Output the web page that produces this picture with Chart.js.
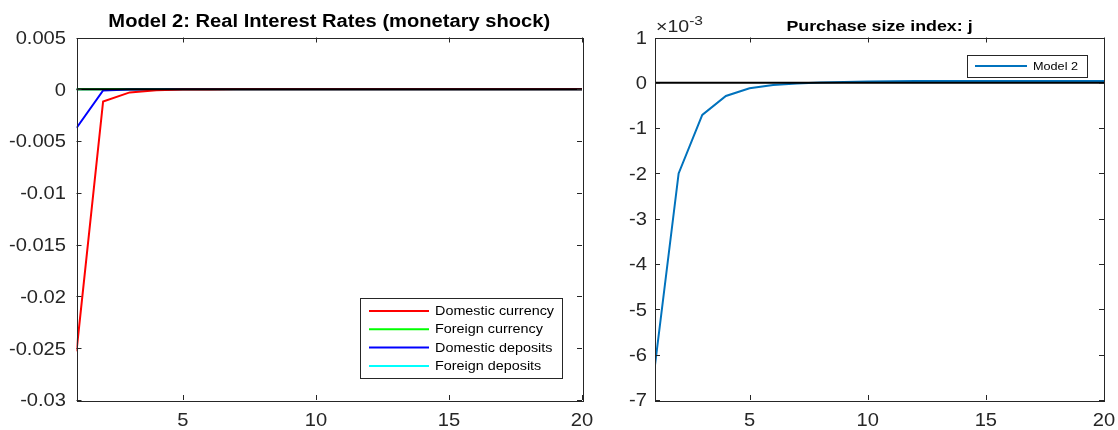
<!DOCTYPE html>
<html>
<head>
<meta charset="utf-8">
<script src="https://cdn.jsdelivr.net/npm/chart.js@4/dist/chart.umd.min.js"></script>
<style>
  html, body { margin: 0; padding: 0; background: #fff; }
  body { width: 1118px; height: 430px; position: relative; overflow: hidden; }
  .box { position: absolute; top: 0; height: 430px; }
  #leftBox { left: 0; width: 600px; }
  #rightBox { left: 595px; width: 523px; }
</style>
</head>
<body>
<div class="box" id="leftBox"><canvas id="rateChart" width="600" height="430"></canvas></div>
<div class="box" id="rightBox"><canvas id="jChart" width="523" height="430"></canvas></div>
<script>
// periods after the shock
const periods = [1, 2, 3, 4, 5, 6, 7, 8, 9, 10, 11, 12, 13, 14, 15, 16, 17, 18, 19, 20];
const xTicks = [5, 10, 15, 20];

// left panel: real interest rates
const domesticCurrency = [-0.0253, -0.00118, -0.0003, -0.0001, -0.00003, -0.00001, 0, 0, 0, 0, 0, 0, 0, 0, 0, 0, 0, 0, 0, 0];
const foreignCurrency = [0, 0, 0, 0, 0, 0, 0, 0, 0, 0, 0, 0, 0, 0, 0, 0, 0, 0, 0, 0];
const domesticDeposits = [-0.00373, -0.00012, -0.00003, -0.00001, 0, 0, 0, 0, 0, 0, 0, 0, 0, 0, 0, 0, 0, 0, 0, 0];
const foreignDeposits = [0, 0, 0, 0, 0, 0, 0, 0, 0, 0, 0, 0, 0, 0, 0, 0, 0, 0, 0, 0];
const zeroLine = [0, 0, 0, 0, 0, 0, 0, 0, 0, 0, 0, 0, 0, 0, 0, 0, 0, 0, 0, 0];
const rateTicks = [0.005, 0, -0.005, -0.01, -0.015, -0.02, -0.025, -0.03];

// right panel: purchase size index j
const model2 = [-0.00623, -0.002, -0.00071, -0.00029, -0.00012, -0.00005, -0.000015, 0.000005, 0.00002, 0.00003, 0.000035, 0.00004, 0.00004, 0.00004, 0.00004, 0.00004, 0.00004, 0.00004, 0.00004, 0.00004];
const jTicks = [0.001, 0, -0.001, -0.002, -0.003, -0.004, -0.005, -0.006, -0.007];

const axisColor = '#262626';
const fontFamily = '"Liberation Sans", Arial, Helvetica, sans-serif';
const stretch = 1.15; // the source image text is a bit wider than Liberation Sans

function pts(ys) {
    return ys.map((y, i) => ({ x: periods[i], y: y }));
}

function wideText(ctx, text, x, y, align) {
    ctx.save();
    ctx.translate(x, y);
    ctx.scale(stretch, 1);
    ctx.textAlign = align;
    ctx.fillText(text, 0, 0);
    ctx.restore();
}

// box, inward ticks and tick labels, MATLAB style
const boxPlugin = {
    id: 'box',
    afterDatasetsDraw(chart, args, opts) {
        const ctx = chart.ctx;
        const a = chart.chartArea;
        const xs = chart.scales.x, ys = chart.scales.y;
        ctx.save();
        ctx.strokeStyle = axisColor;
        ctx.lineWidth = 1;
        ctx.beginPath();
        xs.ticks.forEach(t => {
            const px = Math.round(xs.getPixelForValue(t.value)) + 0.5;
            ctx.moveTo(px, a.bottom); ctx.lineTo(px, a.bottom - 5);
            ctx.moveTo(px, a.top); ctx.lineTo(px, a.top + 5);
        });
        ys.ticks.forEach(t => {
            const py = Math.round(ys.getPixelForValue(t.value)) + 0.5;
            ctx.moveTo(a.left, py); ctx.lineTo(a.left + 5, py);
            ctx.moveTo(a.right, py); ctx.lineTo(a.right - 5, py);
        });
        ctx.stroke();
        ctx.strokeRect(Math.round(a.left) + 0.5, Math.round(a.top) + 0.5,
            Math.round(a.right - a.left), Math.round(a.bottom - a.top));

        ctx.fillStyle = axisColor;
        ctx.font = opts.tickSize + 'px ' + fontFamily;
        ctx.textBaseline = 'alphabetic';
        xs.ticks.forEach(t => {
            wideText(ctx, String(t.value), xs.getPixelForValue(t.value), a.bottom + 26, 'center');
        });
        ctx.textBaseline = 'middle';
        ys.ticks.forEach(t => {
            wideText(ctx, opts.yFormat(t.value), a.left - opts.yGap, ys.getPixelForValue(t.value) + 1.5, 'right');
        });
        ctx.restore();
    }
};

// title and legend drawn in the MATLAB way
const decoPlugin = {
    id: 'deco',
    afterDraw(chart, args, opts) {
        const ctx = chart.ctx;
        const a = chart.chartArea;
        ctx.save();
        ctx.fillStyle = '#000';
        ctx.font = 'bold ' + opts.titleSize + 'px ' + fontFamily;
        ctx.textBaseline = 'alphabetic';
        wideText(ctx, opts.title, (a.left + a.right) / 2, opts.titleY, 'center');

        if (opts.exponent) {
            ctx.fillStyle = axisColor;
            ctx.font = '17px ' + fontFamily;
            wideText(ctx, '\u00d710', a.left + 1, 32, 'left');
            const w = ctx.measureText('\u00d710').width * stretch;
            ctx.font = '13.5px ' + fontFamily;
            wideText(ctx, opts.exponent, a.left + 1 + w, 25, 'left');
        }

        const lg = opts.legend;
        const items = chart.data.datasets.filter(d => d.label);
        ctx.fillStyle = '#fff';
        ctx.fillRect(lg.x, lg.y, lg.w, lg.h);
        ctx.strokeStyle = axisColor;
        ctx.lineWidth = 1;
        ctx.strokeRect(lg.x + 0.5, lg.y + 0.5, lg.w, lg.h);
        ctx.font = lg.font + 'px ' + fontFamily;
        ctx.textBaseline = 'middle';
        items.forEach((d, i) => {
            const y = lg.y + lg.first + i * lg.step;
            ctx.strokeStyle = d.borderColor;
            ctx.lineWidth = 2;
            ctx.beginPath();
            ctx.moveTo(lg.x + lg.l0, y);
            ctx.lineTo(lg.x + lg.l1, y);
            ctx.stroke();
            ctx.fillStyle = '#000';
            wideText(ctx, d.label, lg.x + lg.tx, y + 0.5, 'left');
        });
        ctx.restore();
    }
};

function lineSet(label, data, color, order, width) {
    return {
        label: label,
        data: pts(data),
        borderColor: color,
        backgroundColor: color,
        borderWidth: width || 2,
        pointRadius: 0,
        tension: 0,
        order: order
    };
}

function makeOptions(cfg) {
    return {
        responsive: false,
        animation: false,
        events: [],
        layout: { padding: { left: 0, right: cfg.padRight, top: 37.5, bottom: 0 } },
        plugins: {
            legend: { display: false },
            tooltip: { enabled: false },
            box: { tickSize: 17.5, yGap: cfg.yGap, yFormat: cfg.yFormat },
            deco: cfg.deco
        },
        scales: {
            x: {
                type: 'linear',
                min: 1,
                max: 20,
                afterBuildTicks: s => { s.ticks = xTicks.map(v => ({ value: v })); },
                afterFit: s => { s.height = 30; s.paddingLeft = 0; s.paddingRight = 0; },
                grid: { display: false, drawTicks: false },
                border: { display: false },
                ticks: { display: false }
            },
            y: {
                min: cfg.yMin,
                max: cfg.yMax,
                afterBuildTicks: s => { s.ticks = cfg.yTicks.map(v => ({ value: v })); },
                afterFit: s => { s.width = cfg.yWidth; s.paddingTop = 0; s.paddingBottom = 0; },
                grid: { display: false, drawTicks: false },
                border: { display: false },
                ticks: { display: false }
            }
        }
    };
}

new Chart(document.getElementById('rateChart'), {
    type: 'line',
    data: {
        datasets: [
            lineSet('Domestic currency', domesticCurrency, '#ff0000', 2),
            lineSet('Foreign currency', foreignCurrency, '#00ff00', 4),
            lineSet('Domestic deposits', domesticDeposits, '#0000ff', 3),
            lineSet('Foreign deposits', foreignDeposits, '#00ffff', 5),
            lineSet('', zeroLine, '#000000', 1)
        ]
    },
    options: makeOptions({
        padRight: 18,
        yMin: -0.03, yMax: 0.005, yTicks: rateTicks,
        yWidth: 76.5, yGap: 10.5,
        yFormat: v => { const n = Number(v.toFixed(3)); return n === 0 ? '0' : String(n); },
        deco: {
            title: 'Model 2: Real Interest Rates (monetary shock)',
            titleSize: 17.5, titleY: 27,
            legend: { x: 360, y: 298, w: 202, h: 80, font: 12.5, first: 13, step: 18.3, l0: 9, l1: 69, tx: 75 }
        }
    }),
    plugins: [boxPlugin, decoPlugin]
});

new Chart(document.getElementById('jChart'), {
    type: 'line',
    data: {
        datasets: [
            lineSet('Model 2', model2, '#0072bd', 2),
            lineSet('', zeroLine, '#000000', 1)
        ]
    },
    options: makeOptions({
        padRight: 14,
        yMin: -0.007, yMax: 0.001, yTicks: jTicks,
        yWidth: 60, yGap: 8,
        yFormat: v => String(Math.round(v * 1000)),
        deco: {
            title: 'Purchase size index: j',
            titleSize: 15.5, titleY: 31,
            exponent: '-3',
            legend: { x: 372, y: 55, w: 120, h: 22, font: 11, first: 11, step: 18, l0: 8, l1: 60, tx: 66 }
        }
    }),
    plugins: [boxPlugin, decoPlugin]
});
</script>
</body>
</html>
